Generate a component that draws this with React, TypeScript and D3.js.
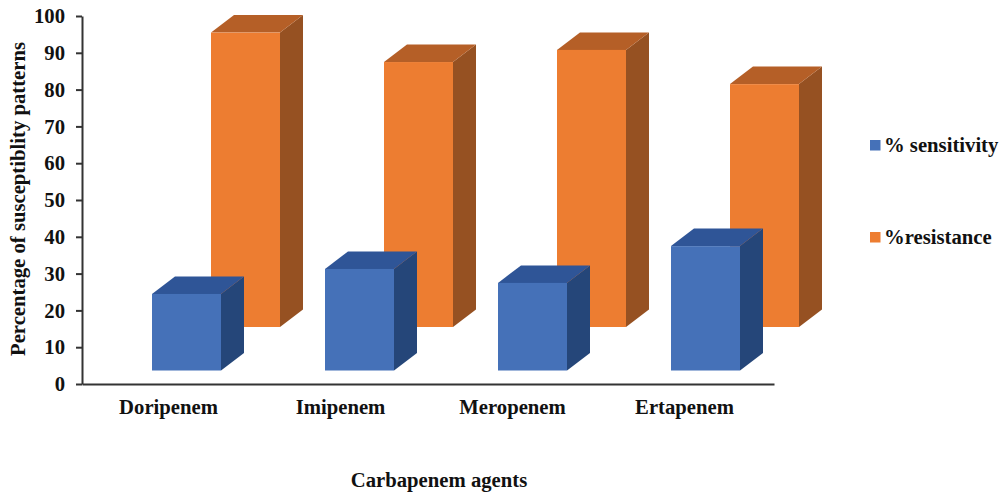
import { useEffect, useRef } from "react";
import * as d3 from "d3";

const categories = ["Doripenem", "Imipenem", "Meropenem", "Ertapenem"];
const sensitivity = [20.8, 27.6, 23.8, 33.8];
const resistance = [80, 72, 75.3, 66];
const yTicks = [0, 10, 20, 30, 40, 50, 60, 70, 80, 90, 100];

const FONT = "'Liberation Serif', serif";
const FONT_SIZE = 20.7;

const series = [
  { name: "% sensitivity", values: sensitivity, offset: 70, lift: 13.5, front: "#4571b8", top: "#2f5597", side: "#254679", legendY: 140 },
  { name: "%resistance", values: resistance, offset: 129, lift: 57, front: "#ed7d31", top: "#b55f27", side: "#965122", legendY: 232 },
];

const App = () => {
  const svgRef = useRef<SVGSVGElement>(null);

  useEffect(() => {
    if (!svgRef.current) return;
    const svg = d3.select(svgRef.current);
    svg.selectAll("*").remove();

    const x = d3.scaleBand<string>().domain(categories).range([82, 774]);
    // the labels in the picture are spaced a little tighter than the bars
    const xLabels = d3.scaleBand<string>().domain(categories).range([82.5, 770.5]);
    const y = d3.scaleLinear().domain([0, 100]).range([384, 16]);

    const barWidth = 69;
    const depthX = 23;
    const depthY = 17.5;

    // orange first so the blue boxes sit in front
    [...series].reverse().forEach((s) => {
      const g = svg.append("g");
      s.values.forEach((v, i) => {
        const left = (x(categories[i]) as number) + s.offset;
        const right = left + barWidth;
        const bottom = y(0) - s.lift;
        const top = y(v) - s.lift;
        const line = d3.line();

        g.append("path")
          .attr("d", line([[right, top], [right + depthX, top - depthY], [right + depthX, bottom - depthY], [right, bottom]]) + "Z")
          .attr("fill", s.side);
        g.append("path")
          .attr("d", line([[left, top], [left + depthX, top - depthY], [right + depthX, top - depthY], [right, top]]) + "Z")
          .attr("fill", s.top);
        g.append("rect")
          .attr("x", left)
          .attr("y", top)
          .attr("width", barWidth)
          .attr("height", bottom - top)
          .attr("fill", s.front);
      });
    });

    // Add y-axis
    const yAxis = svg
      .append("g")
      .attr("transform", "translate(82,0)")
      .call(d3.axisLeft(y).tickValues(yTicks).tickSize(6).tickPadding(11).tickSizeOuter(0));
    yAxis.selectAll("line").attr("stroke", "#333").attr("stroke-width", 2);
    yAxis.select(".domain").attr("stroke", "#333").attr("stroke-width", 2);
    yAxis
      .selectAll("text")
      .attr("font-family", FONT)
      .attr("font-size", FONT_SIZE)
      .attr("font-weight", "bold")
      .attr("fill", "#111");

    // Add x-axis
    svg
      .append("g")
      .attr("transform", "translate(0,384)")
      .call(d3.axisBottom(x).tickSize(0).tickFormat(() => ""))
      .select(".domain")
      .attr("stroke", "#333")
      .attr("stroke-width", 2);

    const xLabelAxis = svg
      .append("g")
      .attr("transform", "translate(0,384)")
      .call(d3.axisBottom(xLabels).tickSize(0).tickPadding(15));
    xLabelAxis.select(".domain").remove();
    xLabelAxis
      .selectAll("text")
      .attr("font-family", FONT)
      .attr("font-size", FONT_SIZE)
      .attr("font-weight", "bold")
      .attr("fill", "#111");

    // Axis titles
    svg
      .append("text")
      .attr("transform", "translate(24.5,199) rotate(-90)")
      .attr("text-anchor", "middle")
      .attr("font-family", FONT)
      .attr("font-size", FONT_SIZE)
      .attr("font-weight", "bold")
      .attr("fill", "#111")
      .text("Percentage of susceptiblity patterns");

    svg
      .append("text")
      .attr("x", 439)
      .attr("y", 487)
      .attr("text-anchor", "middle")
      .attr("font-family", FONT)
      .attr("font-size", FONT_SIZE)
      .attr("font-weight", "bold")
      .attr("fill", "#111")
      .text("Carbapenem agents");

    // Add legend
    series.forEach((s) => {
      svg
        .append("rect")
        .attr("x", 870)
        .attr("y", s.legendY)
        .attr("width", 10.5)
        .attr("height", 10.5)
        .attr("fill", s.front);
      svg
        .append("text")
        .attr("x", 884)
        .attr("y", s.legendY + 12)
        .attr("font-family", FONT)
        .attr("font-size", FONT_SIZE)
        .attr("font-weight", "bold")
        .attr("fill", "#111")
        .text(s.name);
    });
  }, []);

  return (
    <svg
      ref={svgRef}
      width={1004}
      height={494}
      style={{ position: "absolute", left: 0, top: 0, background: "#fff" }}
    />
  );
};

export default App;
